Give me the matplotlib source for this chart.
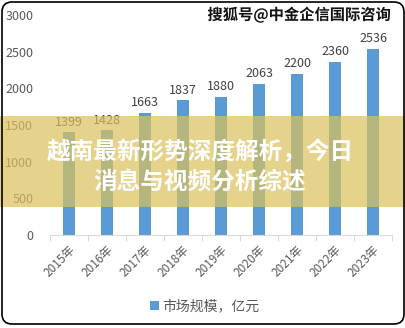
import matplotlib.pyplot as plt
import matplotlib.patheffects as pe
from matplotlib.patches import FancyBboxPatch, Rectangle
from matplotlib.transforms import IdentityTransform

plt.rcParams['font.family'] = ['Noto Sans CJK SC', 'DejaVu Sans']

# data
years = ["2015年", "2016年", "2017年", "2018年", "2019年", "2020年", "2021年", "2022年", "2023年"]
market_size = [1399, 1428, 1663, 1837, 1880, 2063, 2200, 2360, 2536]
series_name = "市场规模，亿元"
y_ticks = [0, 500, 1000, 1500, 2000, 2500, 3000]

banner_text = "越南最新形势深度解析，今日\n消息与视频分析综述"
watermark = "搜狐号@中金企信国际咨询"

bar_color = "#5b9bd5"
text_grey = "#595959"

fig = plt.figure(figsize=(4.06, 3.28), dpi=100)
ax = fig.add_axes([50 / 406, 93 / 328, 342 / 406, 220 / 328])

x = list(range(len(years)))
bars = ax.bar(x, market_size, width=0.32, color=bar_color, label=series_name, zorder=2)

for xi, v in zip(x, market_size):
    ax.text(xi, v + 50, str(v), ha="center", va="bottom", fontsize=9, color="#404040")

ax.set_xlim(-0.5, len(years) - 0.5)
ax.set_ylim(0, 3000)
ax.set_yticks(y_ticks)
ax.set_yticklabels([str(t) for t in y_ticks], fontsize=9, color=text_grey)
ax.tick_params(axis="y", length=0, pad=12)

# category ticks sit between the bars, excel style
ax.set_xticks([i - 0.5 for i in range(len(years) + 1)], minor=True)
ax.set_xticks(x)
ax.set_xticklabels(years, rotation=45, ha="right", rotation_mode="anchor",
                   fontsize=8.5, color=text_grey)
ax.tick_params(axis="x", which="major", length=0, pad=6)
ax.tick_params(axis="x", which="minor", length=4, color="#d9d9d9", width=0.8)

for side in ["top", "right", "left"]:
    ax.spines[side].set_visible(False)
ax.spines["bottom"].set_color("#d9d9d9")
ax.spines["bottom"].set_linewidth(0.8)

leg = fig.legend(handles=[bars], labels=[series_name], loc="center",
                 bbox_to_anchor=(205 / 406, 22 / 328), frameon=False,
                 fontsize=10, handlelength=0.6, handleheight=0.6,
                 handletextpad=0.3, labelcolor=text_grey)

# watermark top right
fig.text(299 / 406, 1 - 15 / 328, watermark, ha="center", va="center",
         fontsize=11, fontweight="bold", color="#111111",
         path_effects=[pe.withStroke(linewidth=2.5, foreground="white")])

# translucent yellow banner with the headline
fig.patches.append(Rectangle((0, (328 - 207) / 328), 1, 91 / 328,
                             transform=fig.transFigure, facecolor="#dcc15a",
                             alpha=0.7, edgecolor="none", zorder=5))
fig.text(200 / 406, 1 - 167 / 328, banner_text, ha="center", va="center",
         multialignment="center", fontsize=17, fontweight="bold",
         color="white", linespacing=1.3, zorder=6)

# rounded outer frame
fig.patches.append(FancyBboxPatch((12, 14), 382, 302,
                                  boxstyle="round,pad=10,rounding_size=10",
                                  transform=IdentityTransform(), facecolor="none",
                                  edgecolor="black", linewidth=1.2, zorder=7))

fig.savefig("out.png", dpi=100)
